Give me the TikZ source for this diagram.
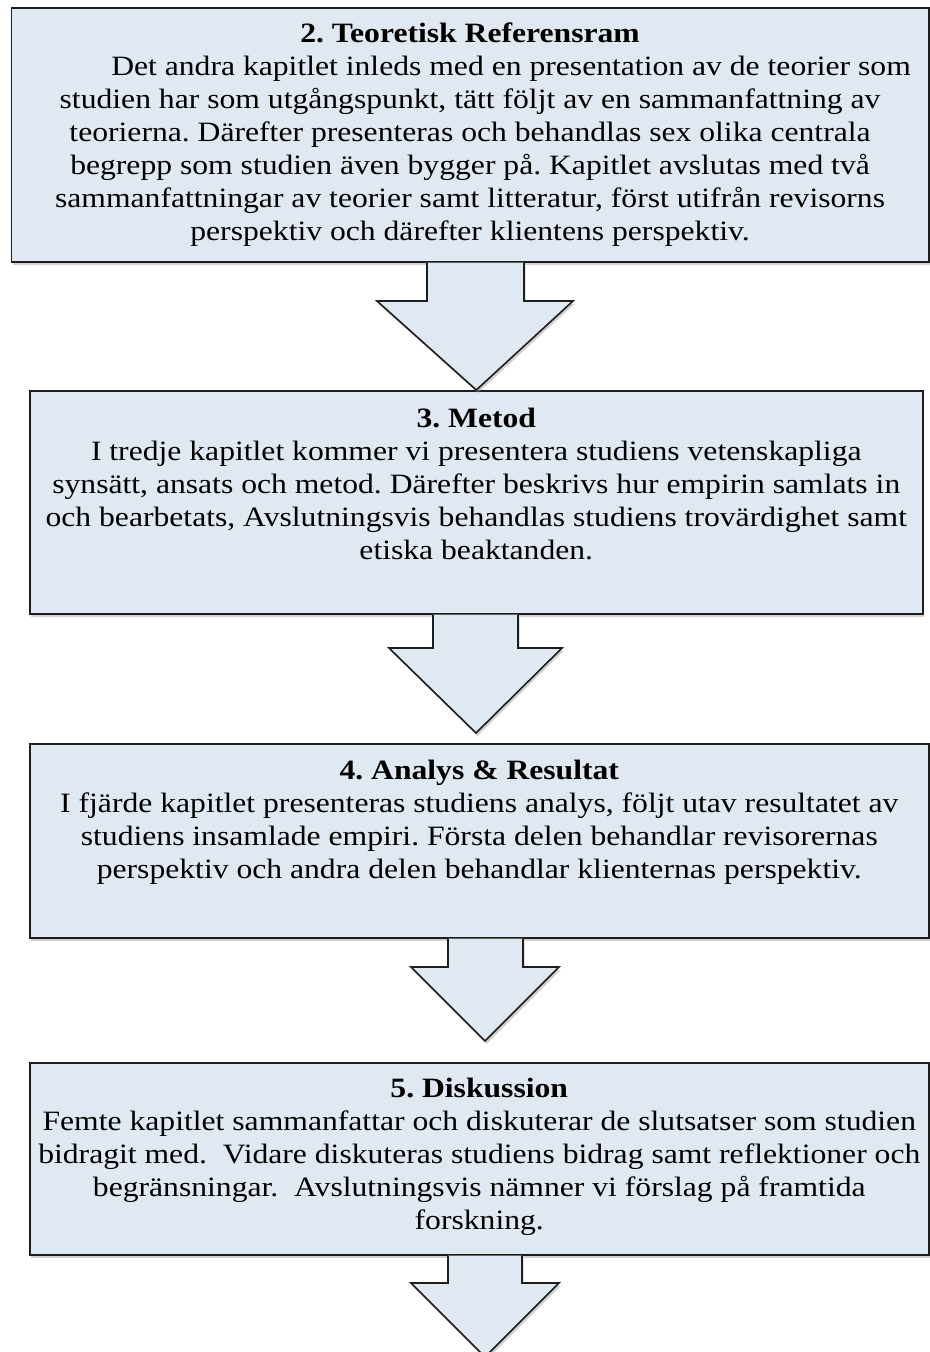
\documentclass[tikz,border=0pt]{standalone}
\usepackage{fontspec}
\setmainfont{Liberation Serif}[FakeStretch=1.13]
\usepackage{tikz}
\usetikzlibrary{positioning, shadows, calc}

\definecolor{panelblue}{RGB}{224,232,242}
\definecolor{paneledge}{RGB}{30,30,30}
\frenchspacing

\begin{document}
\begin{tikzpicture}[
    x=1pt, y=-1pt,
    panel/.style={rectangle, draw=paneledge, fill=panelblue, line width=1.6pt,
        anchor=north west, inner sep=0pt,
        drop shadow={shadow xshift=1.5pt, shadow yshift=-3pt, fill=black!40, opacity=0.45}},
    paneltext/.style={align=center, inner sep=0pt, font=\fontsize{28}{33}\selectfont},
    flowarrow/.style={draw=paneledge, fill=panelblue, line width=1.6pt, line join=miter,
        drop shadow={shadow xshift=1.5pt, shadow yshift=-3pt, fill=black!40, opacity=0.45}}
]
\useasboundingbox (0,0) rectangle (929,1352);

% Chapter boxes
\node[panel, minimum width=917.5pt, minimum height=254pt] (teori) at (10.5,7) {};
\node[panel, minimum width=893pt, minimum height=223pt] (metod) at (29,390) {};
\node[panel, minimum width=899pt, minimum height=194pt] (analys) at (29,743) {};
\node[panel, minimum width=899pt, minimum height=192pt] (diskussion) at (29,1062) {};

% Free arrow tips
\coordinate (tipb) at (476,733);
\coordinate (tipc) at (485,1041);
\coordinate (tipd) at (485,1357);

% Block arrows between the boxes
\draw[flowarrow] (427,0 |- teori.south) -- (427,301) -- (377,301) -- (metod.north)
    -- (573,301) -- (524,301) -- (524,0 |- teori.south);
\draw[flowarrow] (433,0 |- metod.south) -- (433,648) -- (389,648) -- (tipb)
    -- (562,648) -- (518,648) -- (518,0 |- metod.south);
\draw[flowarrow] (448,0 |- analys.south) -- (448,967) -- (411,967) -- (tipc)
    -- (559,967) -- (523,967) -- (523,0 |- analys.south);
\draw[flowarrow] (448,0 |- diskussion.south) -- (448,1283) -- (411,1283) -- (tipd)
    -- (559,1283) -- (522,1283) -- (522,0 |- diskussion.south);

% Texts
\node[paneltext, below=16pt of teori.north] (teoritext) {%
    \textbf{2. Teoretisk Referensram}\\
    \hspace*{82pt}Det andra kapitlet inleds med en presentation av de teorier som\\
    studien har som utgångspunkt, tätt följt av en sammanfattning av\\
    teorierna. Därefter presenteras och behandlas sex olika centrala\\
    begrepp som studien även bygger på. Kapitlet avslutas med två\\
    sammanfattningar av teorier samt litteratur, först utifrån revisorns\\
    perspektiv och därefter klientens perspektiv.};
\node[paneltext, below=18pt of metod.north] (metodtext) {%
    \textbf{3. Metod}\\
    I tredje kapitlet kommer vi presentera studiens vetenskapliga\\
    synsätt, ansats och metod. Därefter beskrivs hur empirin samlats in\\
    och bearbetats, Avslutningsvis behandlas studiens trovärdighet samt\\
    etiska beaktanden.};
\node[paneltext, below=17pt of analys.north] (analystext) {%
    \textbf{4. Analys \& Resultat}\\
    I fjärde kapitlet presenteras studiens analys, följt utav resultatet av\\
    studiens insamlade empiri. Första delen behandlar revisorernas\\
    perspektiv och andra delen behandlar klienternas perspektiv.};
\node[paneltext, below=16pt of diskussion.north] (diskussiontext) {%
    \textbf{5. Diskussion}\\
    Femte kapitlet sammanfattar och diskuterar de slutsatser som studien\\
    bidragit med.\ \ Vidare diskuteras studiens bidrag samt reflektioner och\\
    begränsningar.\ \ Avslutningsvis nämner vi förslag på framtida\\
    forskning.};

\end{tikzpicture}
\end{document}
